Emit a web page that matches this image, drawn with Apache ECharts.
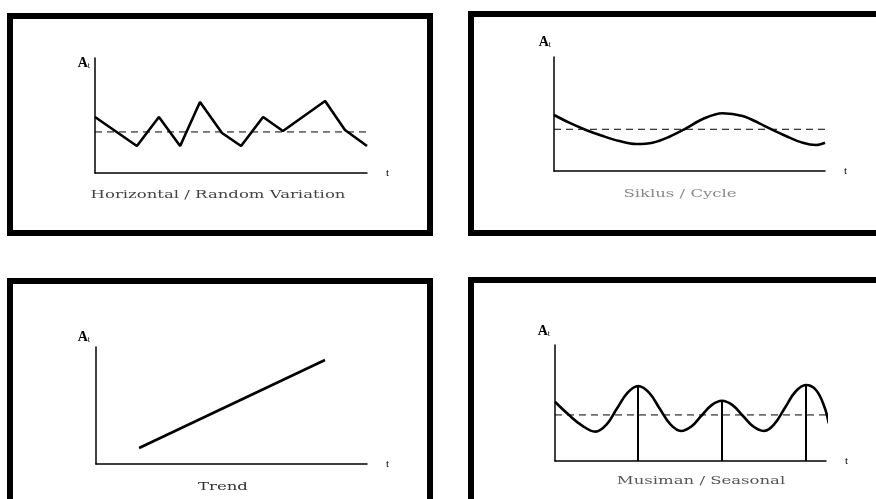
<!DOCTYPE html>
<html>
<head>
<meta charset="utf-8">
<script src="https://cdn.jsdelivr.net/npm/echarts@6/dist/echarts.min.js"></script>
<style>html,body{margin:0;padding:0;background:#fff}#c{width:876px;height:499px}</style>
</head>
<body>
<div id="c"></div>
<script>
// Panel titles
const panelTitles = ['Horizontal / Random Variation', 'Siklus / Cycle', 'Trend', 'Musiman / Seasonal'];
// Horizontal / random variation
const randX = [0, 15.4, 23.5, 31.3, 38.6, 46.7, 53.7, 61.8, 69.1, 84.6, 91.9, 100];
const randY = [48.7, 23.5, 48.7, 23.5, 61.7, 34.8, 23.5, 48.7, 36.5, 62.6, 37.4, 23.5];
const randMean = 35.7;
// Cycle
const cycleX = [0, 5.6, 11.8, 18.0, 24.1, 30.3, 36.4, 42.6, 48.7, 54.9, 62.2, 69.6, 75.8, 79.5, 85.6, 91.8, 96.7, 100];
const cycleY = [49.1, 42.4, 36.0, 30.7, 26.3, 23.7, 24.8, 30.1, 37.4, 45.6, 50.6, 48.2, 41.8, 37.4, 30.7, 24.8, 22.8, 24.8];
const cycleMean = 36.6;
// Trend
const trendX = [15.9, 84.5];
const trendY = [13.7, 88.9];
// Seasonal
const seasonX = [0, 5, 10, 14.9, 18.9, 22.8, 26.8, 30.7, 34.7, 38.6, 42.6, 46.5, 50.3, 54.0, 57.8, 61.6, 65.5, 69.3, 73.2, 77.0, 80.9, 84.8, 88.7, 92.6, 96.3, 99.4, 101.0];
const seasonY = [51.1, 40.0, 30.5, 25.3, 31.1, 45.0, 58.9, 64.7, 59.0, 45.3, 31.6, 25.9, 29.7, 39.0, 48.2, 52.0, 48.2, 39.0, 29.7, 25.9, 31.7, 45.7, 59.7, 65.5, 61.2, 46.8, 32.5];
const seasonMean = 39.7;
const seasonPeakX = [30.7, 61.6, 92.6];
const seasonPeakY = [64.7, 52.0, 65.5];

const chart = echarts.init(document.getElementById('c'), null, {renderer: 'canvas'});
const pair = (xs, ys) => xs.map((x, i) => [x, ys[i]]);

const grids = [
  {left: 95, top: 58, width: 272, height: 115},
  {left: 554, top: 57, width: 271, height: 114},
  {left: 96, top: 347, width: 271, height: 117},
  {left: 555, top: 345, width: 271, height: 116}
];
const yNameGap = [-5, 15, 10, 14];
const yNamePad = [5, 3, 6, 5];

const xAxes = grids.map((g, i) => ({
  type: 'value', gridIndex: i, min: 0, max: 100,
  axisLine: {show: true, onZero: false, lineStyle: {color: '#000', width: 1.5}},
  axisTick: {show: false}, axisLabel: {show: false}, splitLine: {show: false},
  name: 't', nameLocation: 'end', nameGap: 19,
  nameTextStyle: {fontFamily: 'Liberation Serif', fontSize: 11, color: '#000', padding: [6, 0, 0, 0]}
}));
const yAxes = grids.map((g, i) => ({
  type: 'value', gridIndex: i, min: 0, max: 100,
  axisLine: {show: true, onZero: false, lineStyle: {color: '#000', width: 1.5}},
  axisTick: {show: false}, axisLabel: {show: false}, splitLine: {show: false},
  name: '{a|A}{s|t}', nameLocation: 'end', nameGap: yNameGap[i],
  nameTextStyle: {
    align: 'right', verticalAlign: 'middle', padding: [0, yNamePad[i], 0, 0],
    rich: {
      a: {fontFamily: 'Liberation Serif', fontSize: 14, fontWeight: 'bold', color: '#000'},
      s: {fontFamily: 'Liberation Serif', fontSize: 8, color: '#000', padding: [6, 0, 0, 0]}
    }
  }
}));

const solid = {color: '#000', width: 2.6};
const dashed = {color: '#000', width: 1, type: [7, 5]};
const base = {type: 'line', symbol: 'none', silent: true, clip: false};

const series = [
  Object.assign({}, base, {xAxisIndex: 0, yAxisIndex: 0, data: pair(randX, randY), lineStyle: solid}),
  Object.assign({}, base, {xAxisIndex: 0, yAxisIndex: 0, data: [[0, randMean], [100, randMean]], lineStyle: dashed}),
  Object.assign({}, base, {xAxisIndex: 1, yAxisIndex: 1, data: pair(cycleX, cycleY), smooth: 0.35, lineStyle: solid}),
  Object.assign({}, base, {xAxisIndex: 1, yAxisIndex: 1, data: [[0, cycleMean], [100, cycleMean]], lineStyle: dashed}),
  Object.assign({}, base, {xAxisIndex: 2, yAxisIndex: 2, data: pair(trendX, trendY), lineStyle: solid}),
  Object.assign({}, base, {xAxisIndex: 3, yAxisIndex: 3, data: pair(seasonX, seasonY), smooth: 0.4, lineStyle: solid,
    markLine: {
      silent: true, symbol: 'none', label: {show: false},
      lineStyle: {color: '#000', width: 2, type: 'solid'},
      data: seasonPeakX.map((x, i) => [{coord: [x, 0]}, {coord: [x, seasonPeakY[i]]}])
    }}),
  Object.assign({}, base, {xAxisIndex: 3, yAxisIndex: 3, data: [[0, seasonMean], [100, seasonMean]], lineStyle: dashed})
];

const titlePos = [[218, 195, '#444'], [680, 194, '#888'], [223, 487, '#333'], [701, 481, '#555']];
const graphics = [
  {type: 'rect', shape: {x: 10, y: 16, width: 420, height: 217}, style: {fill: 'none', stroke: '#000', lineWidth: 6}},
  {type: 'rect', shape: {x: 471, y: 14, width: 500, height: 219}, style: {fill: 'none', stroke: '#000', lineWidth: 6}},
  {type: 'rect', shape: {x: 10, y: 281, width: 420, height: 300}, style: {fill: 'none', stroke: '#000', lineWidth: 6}},
  {type: 'rect', shape: {x: 471, y: 280, width: 500, height: 300}, style: {fill: 'none', stroke: '#000', lineWidth: 6}}
].concat(panelTitles.map((t, i) => ({
  type: 'text', x: titlePos[i][0], y: titlePos[i][1], scaleX: 1.5,
  style: {text: t, fontFamily: 'DejaVu Serif', fontSize: 11, fill: titlePos[i][2], align: 'center', verticalAlign: 'middle'}
})));

chart.setOption({
  animation: false,
  backgroundColor: '#fff',
  grid: grids,
  xAxis: xAxes,
  yAxis: yAxes,
  series: series,
  graphic: graphics
});
</script>
</body>
</html>
